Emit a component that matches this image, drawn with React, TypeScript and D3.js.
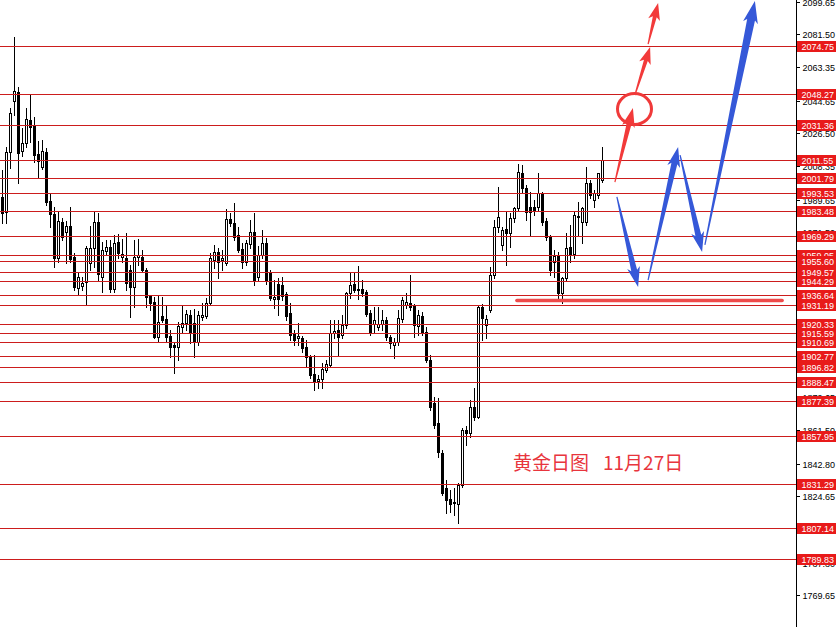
import React from "react";
import * as d3 from "d3";

const W = 836;
const H = 627;

// Daily gold candles (price values)
const opens = [
  1991.1, 1982.7, 2016.1, 2044.4, 2049.4, 2016.6, 2021.1, 2033.9, 2030.5, 2015.0,
  2007.7, 2016.1, 1988.8, 1981.6, 1957.2, 1977.2, 1971.6, 1974.9, 1957.7, 1940.5,
  1941.6, 1943.8, 1954.4, 1962.7, 1977.2, 1946.6, 1961.0, 1963.3, 1939.9, 1966.0,
  1957.7, 1957.2, 1950.5, 1941.0, 1957.7, 1957.7, 1950.5, 1936.0, 1932.7, 1913.2,
  1924.9, 1923.2, 1913.8, 1908.8, 1907.7, 1918.8, 1921.0, 1925.5, 1921.0, 1910.4,
  1924.4, 1924.9, 1932.1, 1956.0, 1960.5, 1956.0, 1954.4, 1978.8, 1976.6, 1969.9,
  1962.2, 1954.9, 1964.9, 1971.6, 1946.6, 1958.8, 1965.5, 1949.4, 1934.4, 1942.7,
  1942.1, 1937.1, 1926.6, 1914.9, 1912.7, 1912.7, 1907.7, 1902.1, 1892.7, 1888.8,
  1889.9, 1894.9, 1897.7, 1915.5, 1917.1, 1914.3, 1919.9, 1937.7, 1942.7, 1939.6,
  1939.9, 1938.2, 1926.6, 1920.5, 1918.8, 1920.5, 1922.7, 1913.2, 1908.8, 1910.4,
  1923.2, 1931.0, 1932.1, 1930.5, 1919.3, 1924.9, 1916.0, 1900.4, 1876.5, 1865.4,
  1848.7, 1829.3, 1823.2, 1821.5, 1820.4, 1830.9, 1861.5, 1859.9, 1874.3, 1868.7,
  1929.9, 1919.9, 1928.2, 1947.7, 1974.4, 1964.4, 1973.3, 1971.0, 1979.4, 1984.9,
  2004.4, 1996.1, 1985.5, 1985.5, 1985.5, 1992.7, 1977.7, 1968.8, 1954.9, 1958.8,
  1937.7, 1946.0, 1963.3, 1959.4, 1980.0, 1977.2, 1977.2, 1998.9, 1989.4, 1992.2,
  2000.5,
];
const highs = [
  2006.1, 2018.9, 2040.6, 2080.0, 2052.2, 2029.4, 2040.6, 2047.8, 2035.5, 2022.2,
  2022.8, 2018.3, 1993.3, 1985.5, 1982.7, 1979.4, 1977.7, 1985.5, 1959.9, 1949.4,
  1946.6, 1963.8, 1974.9, 1983.3, 1982.2, 1966.0, 1967.2, 1967.2, 1969.9, 1970.5,
  1967.7, 1971.0, 1953.3, 1967.2, 1967.7, 1961.6, 1951.6, 1936.6, 1935.5, 1936.6,
  1935.5, 1931.0, 1917.1, 1909.9, 1921.6, 1931.0, 1928.2, 1928.2, 1928.8, 1927.7,
  1932.1, 1934.9, 1959.9, 1964.4, 1962.7, 1961.6, 1984.4, 1982.2, 1987.7, 1974.4,
  1965.5, 1967.2, 1978.3, 1982.2, 1963.8, 1972.7, 1968.3, 1950.5, 1944.9, 1946.0,
  1946.6, 1938.2, 1932.1, 1917.1, 1921.0, 1913.8, 1911.6, 1903.2, 1903.2, 1892.1,
  1898.8, 1900.4, 1922.7, 1922.7, 1922.7, 1925.5, 1938.2, 1949.4, 1949.4, 1952.7,
  1944.9, 1939.4, 1928.2, 1929.9, 1929.9, 1928.2, 1924.4, 1914.3, 1912.7, 1928.2,
  1935.5, 1937.7, 1947.7, 1931.6, 1928.2, 1927.1, 1918.8, 1903.2, 1879.9, 1879.3,
  1850.4, 1833.7, 1828.2, 1829.3, 1832.0, 1862.6, 1863.7, 1878.2, 1884.9, 1931.0,
  1931.6, 1925.5, 1952.1, 1978.3, 1996.6, 1974.4, 1982.7, 1982.2, 1985.5, 2009.4,
  2008.9, 1997.7, 1993.8, 1989.4, 2004.4, 1993.8, 1979.4, 1969.9, 1961.6, 1960.5,
  1946.6, 1971.0, 1975.5, 1982.7, 1988.3, 1985.5, 2007.7, 2000.5, 1995.0, 2004.4,
  2018.9,
];
const lows = [
  1976.6, 1976.6, 2007.2, 2036.5, 1998.9, 2013.9, 2018.9, 2021.6, 2010.5, 2001.6,
  2006.6, 1986.6, 1974.4, 1952.1, 1954.9, 1967.2, 1954.4, 1954.9, 1939.4, 1936.6,
  1939.4, 1931.6, 1950.5, 1952.1, 1944.9, 1938.2, 1958.8, 1938.2, 1938.2, 1957.2,
  1954.9, 1939.4, 1924.4, 1929.9, 1953.3, 1949.4, 1929.9, 1928.2, 1912.7, 1910.4,
  1921.6, 1910.4, 1902.1, 1893.2, 1900.4, 1916.0, 1917.1, 1909.9, 1902.1, 1908.8,
  1922.7, 1923.8, 1931.0, 1951.6, 1946.0, 1950.5, 1953.3, 1974.9, 1967.2, 1960.5,
  1951.6, 1953.3, 1962.7, 1942.1, 1944.9, 1957.2, 1942.7, 1933.8, 1929.4, 1925.5,
  1933.8, 1922.7, 1911.6, 1908.8, 1908.8, 1904.9, 1896.5, 1890.4, 1883.8, 1884.9,
  1884.9, 1893.8, 1896.5, 1912.7, 1903.2, 1912.7, 1918.2, 1934.9, 1938.2, 1934.4,
  1936.0, 1924.9, 1914.3, 1915.5, 1917.1, 1917.1, 1911.6, 1907.1, 1901.5, 1908.8,
  1921.6, 1929.4, 1928.2, 1913.2, 1914.3, 1914.3, 1899.3, 1872.6, 1862.6, 1846.5,
  1825.4, 1815.4, 1815.9, 1814.3, 1809.8, 1829.8, 1853.2, 1857.6, 1867.1, 1868.2,
  1911.6, 1912.7, 1927.1, 1946.0, 1971.6, 1961.6, 1953.3, 1963.3, 1977.2, 1983.8,
  1993.8, 1978.3, 1969.9, 1981.0, 1983.8, 1975.5, 1967.2, 1947.7, 1946.6, 1933.8,
  1932.1, 1944.9, 1954.9, 1957.2, 1969.9, 1965.5, 1975.5, 1990.5, 1985.5, 1990.5,
  1999.4,
];
const closes = [
  1982.2, 2016.1, 2037.8, 2050.0, 2015.5, 2021.1, 2034.4, 2030.0, 2014.4, 2011.1,
  2016.6, 1988.3, 1981.6, 1957.2, 1977.7, 1968.8, 1974.9, 1956.6, 1941.0, 1946.6,
  1943.3, 1962.7, 1962.7, 1977.2, 1948.3, 1961.6, 1963.3, 1939.9, 1965.5, 1959.9,
  1959.4, 1943.3, 1941.0, 1957.7, 1958.8, 1950.5, 1935.5, 1932.1, 1913.2, 1921.6,
  1922.7, 1913.2, 1907.7, 1907.7, 1919.3, 1921.0, 1926.0, 1915.5, 1911.0, 1925.5,
  1925.5, 1932.1, 1957.2, 1960.5, 1954.9, 1957.2, 1978.8, 1976.6, 1968.8, 1961.6,
  1954.9, 1965.5, 1971.6, 1944.9, 1958.8, 1965.5, 1944.4, 1934.9, 1935.5, 1934.4,
  1936.0, 1924.9, 1914.3, 1911.6, 1913.8, 1907.1, 1902.1, 1892.1, 1888.8, 1889.9,
  1895.4, 1898.2, 1915.5, 1916.6, 1913.2, 1919.9, 1937.7, 1942.1, 1939.4, 1940.0,
  1937.7, 1926.0, 1916.0, 1922.7, 1920.5, 1922.7, 1913.2, 1909.9, 1910.4, 1923.8,
  1933.8, 1932.7, 1929.9, 1919.9, 1925.5, 1916.0, 1900.4, 1874.3, 1864.3, 1849.3,
  1826.5, 1822.6, 1820.4, 1820.9, 1830.9, 1861.5, 1859.9, 1874.3, 1868.7, 1929.9,
  1923.8, 1923.2, 1947.7, 1974.4, 1980.0, 1972.7, 1971.0, 1979.4, 1984.9, 2005.0,
  1996.1, 1982.7, 1982.7, 1983.8, 1993.3, 1977.2, 1968.8, 1950.5, 1958.3, 1937.7,
  1946.0, 1962.7, 1959.4, 1981.1, 1980.4, 1984.9, 1998.9, 1992.2, 1993.3, 2004.4,
  2011.6,
];

// Horizontal price levels with red tags
const levels = [
  2074.75, 2048.27, 2031.36, 2011.55, 2001.79, 1993.53, 1983.48, 1969.29, 1959.05,
  1955.6, 1949.57, 1944.29, 1936.64, 1931.19, 1920.33, 1915.59, 1910.69, 1902.77,
  1896.82, 1888.47, 1877.39, 1857.95, 1831.29, 1807.14, 1789.83,
];

// Price axis tick labels
const axisTicks = [
  2099.65, 2081.5, 2063.35, 2044.65, 2026.5, 2008.35, 1989.65, 1971.5, 1953.35,
  1934.65, 1916.5, 1898.35, 1879.65, 1861.5, 1842.8, 1824.65, 1806.5, 1787.8,
  1769.65, 1750.95,
];

// Support line (thick) : [index start, index end, price]
const supportLine = [128.6, 194.9, 1933.5];

// Projected arrows in data coordinates [index, price]
const redArrowFrom = [[153.1, 1999.4], [158.1, 2047.8], [161.4, 2076.1]];
const redArrowTo = [[157.6, 2040.6], [161.9, 2074.5], [163.9, 2098.9]];
const blueArrowFrom = [[153.6, 1991.1], [161.4, 1944.9], [169.4, 2014.4], [175.6, 1964.4]];
const blueArrowTo = [[158.9, 1941.0], [168.9, 2018.9], [174.9, 1960.5], [188.1, 2100.0]];
const circleCenter = [158.0, 2040.0];

const titleLeft = "黄金日图";
const titleRight = "11月27日";

function arrowPath(x0: number, y0: number, x1: number, y1: number, sw: number, hw: number, hl: number, back: number) {
  const dx = x1 - x0;
  const dy = y1 - y0;
  const L = Math.sqrt(dx * dx + dy * dy);
  const ux = dx / L;
  const uy = dy / L;
  const nx = -uy;
  const ny = ux;
  const pt = (a: number, b: number) => [x0 + ux * a + nx * b, y0 + uy * a + ny * b];
  const pts = [
    pt(0, 0.6),
    pt(L - hl, sw / 2),
    pt(L - hl - back, hw / 2),
    [x1, y1],
    pt(L - hl - back, -hw / 2),
    pt(L - hl, -sw / 2),
    pt(0, -0.6),
  ];
  return "M" + pts.map((p) => p[0].toFixed(2) + "," + p[1].toFixed(2)).join("L") + "Z";
}

export default function App() {
  const n = opens.length;
  const x = d3.scaleLinear().domain([0, n - 1]).range([2.5, 602.5]);
  const y = d3.scaleLinear().domain([1752.0, 2100.6]).range([H, 0]);
  const axisX = 796;

  const redStyle = [
    { sw: 5, hw: 13, hl: 16, back: 3 },
    { sw: 4, hw: 12, hl: 14, back: 3 },
    { sw: 4, hw: 12, hl: 14, back: 3 },
  ];
  const blueStyle = [
    { sw: 6, hw: 13, hl: 17, back: 3 },
    { sw: 6, hw: 13, hl: 17, back: 3 },
    { sw: 6, hw: 13, hl: 17, back: 3 },
    { sw: 8, hw: 15, hl: 19, back: 3 },
  ];

  return (
    <svg
      width={W}
      height={H}
      style={{ position: "absolute", left: 0, top: 0, background: "#fff" }}
      xmlns="http://www.w3.org/2000/svg"
    >
      <rect x={0} y={0} width={W} height={H} fill="#fff" />
      {/* candles */}
      <g>
        {d3.range(n).map((i) => {
          const o = opens[i];
          const c = closes[i];
          const col = Math.floor(x(i));
          const top = Math.round(y(Math.max(o, c)));
          const bot = Math.round(y(Math.min(o, c)));
          const hh = Math.max(1, bot - top + 1);
          const bull = c >= o;
          return (
            <g key={i}>
              <line
                x1={col + 0.5}
                x2={col + 0.5}
                y1={Math.round(y(highs[i]))}
                y2={Math.round(y(lows[i])) + 1}
                stroke="#000"
                strokeWidth={1}
              />
              <rect x={col - 1} y={top} width={3} height={hh} fill="#000" />
              {bull && hh > 2 && <rect x={col} y={top + 1} width={1} height={hh - 2} fill="#fff" />}
            </g>
          );
        })}
      </g>
      {/* level lines */}
      <g>
        {levels.map((v, i) => {
          const yy = Math.round(y(v)) + 0.5;
          return <line key={i} x1={0} x2={axisX} y1={yy} y2={yy} stroke="#cc1d1d" strokeWidth={1} />;
        })}
      </g>
      {/* support line */}
      <line
        x1={x(supportLine[0])}
        x2={x(supportLine[1])}
        y1={y(supportLine[2])}
        y2={y(supportLine[2])}
        stroke="#ee4a4a"
        strokeWidth={3.5}
        strokeLinecap="round"
      />
      {/* axis */}
      <line x1={axisX + 0.5} x2={axisX + 0.5} y1={0} y2={H} stroke="#000" strokeWidth={1} />
      <g fontFamily="'Liberation Sans', Arial, sans-serif" fontSize={9}>
        {axisTicks.map((v, i) => {
          const yy = Math.round(y(v)) + 0.5;
          return (
            <g key={i}>
              <line x1={axisX} x2={axisX + 4} y1={yy} y2={yy} stroke="#000" strokeWidth={1} />
              <text x={802.5} y={yy} dominantBaseline="central" fill="#000">
                {v.toFixed(2)}
              </text>
            </g>
          );
        })}
        {levels.map((v, i) => {
          const yy = Math.round(y(v)) + 0.5;
          return (
            <g key={i}>
              <rect x={797} y={yy - 5.5} width={39} height={11} fill="#e81a1a" />
              <text x={801.5} y={yy + 0.5} dominantBaseline="central" fill="#fff">
                {v.toFixed(2)}
              </text>
            </g>
          );
        })}
      </g>
      {/* projections */}
      <g>
        {redArrowFrom.map((f, i) => {
          const t = redArrowTo[i];
          const s = redStyle[i];
          return (
            <path
              key={i}
              d={arrowPath(x(f[0]), y(f[1]), x(t[0]), y(t[1]), s.sw, s.hw, s.hl, s.back)}
              fill="#f23a3a"
            />
          );
        })}
        <ellipse
          cx={x(circleCenter[0])}
          cy={y(circleCenter[1])}
          rx={17}
          ry={15.5}
          fill="none"
          stroke="#f03a3a"
          strokeWidth={3}
        />
        {blueArrowFrom.map((f, i) => {
          const t = blueArrowTo[i];
          const s = blueStyle[i];
          return (
            <path
              key={i}
              d={arrowPath(x(f[0]), y(f[1]), x(t[0]), y(t[1]), s.sw, s.hw, s.hl, s.back)}
              fill="#3558d8"
            />
          );
        })}
      </g>
      {/* title */}
      <g fontFamily="'Noto Sans CJK SC', sans-serif" fontSize={19} fill="#e8353d">
        <text x={513} y={470}>{titleLeft}</text>
        <text x={603} y={470}>{titleRight}</text>
      </g>
    </svg>
  );
}
